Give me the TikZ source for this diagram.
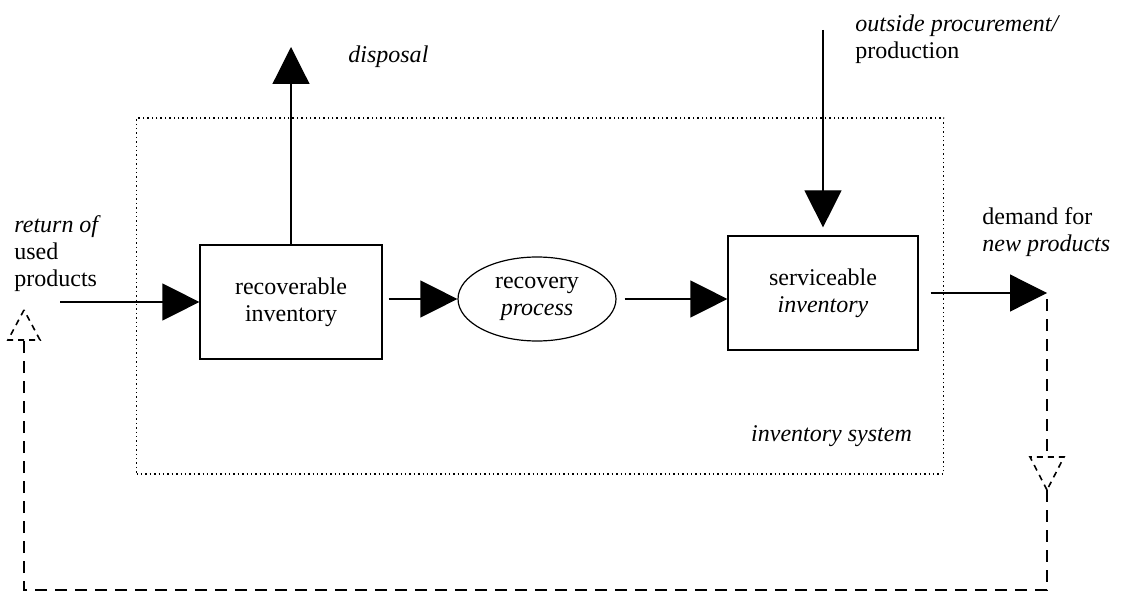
\documentclass[tikz,border=0pt]{standalone}
\usepackage{fontspec}
\setmainfont{Liberation Serif}
\usetikzlibrary{arrows.meta, positioning, calc, shapes.geometric}
\tikzset{
  stock/.style={draw, line width=0.6pt, minimum height=57pt, align=center, inner sep=2pt},
  proc/.style={draw, line width=0.6pt, ellipse, minimum width=79pt, minimum height=42pt, inner sep=1pt, align=center},
  sys/.style={draw, line width=0.7pt, dash pattern=on 0.7pt off 1.5pt, minimum width=403.5pt, minimum height=178pt, inner sep=0pt},
  lbl/.style={align=left, inner sep=0pt},
  arr/.style={-{Triangle[length=18.5pt, width=18.5pt]}, line width=0.6pt},
  back/.style={line width=0.8pt, dash pattern=on 6pt off 4pt},
  backhead/.style={line width=0.8pt, dash pattern=on 3pt off 2.5pt},
}

\begin{document}
\begin{tikzpicture}[x=0.5pt, y=-0.5pt, font=\fontsize{12}{13.5}\selectfont]
  \useasboundingbox (0,0) rectangle (1128,604);
  % inventory system
  \node[sys] (system) at (540,296) {};
  \node[lbl, anchor=south east] (syslab) at ([xshift=-16pt, yshift=14pt]system.south east) {\itshape inventory system};
  % stocks and process
  \node[stock, minimum width=91pt] (rec) at (291,302) {recoverable\\inventory};
  \node[proc] (rp) at (537,299) {recovery\\\textit{process}};
  \node[stock, minimum width=95pt] (serv) at (823,293) {serviceable\\\textit{inventory}};
  % flows
  \coordinate (in) at (60,302);
  \coordinate (out) at (1047,293);
  \coordinate (dispo) at (291,47);
  \coordinate (buy) at (823,30);
  \draw[arr] (in) -- (rec.west);
  \draw[arr, shorten <=3pt] (rec.east |- rp.west) -- (rp.west);
  \draw[arr, shorten <=4pt] (rp.east) -- (rp.east -| serv.west);
  \draw[arr, shorten <=6pt] (serv.east) -- (out);
  \draw[arr] (rec.north) -- (dispo);
  \draw[arr, shorten >=4pt] (buy) -- (serv.north);
  \node[lbl, anchor=west] (displab) at (348,57) {\itshape disposal};
  \node[lbl, anchor=west] (buylab) at (855,39) {\textit{outside procurement/}\\production};
  \node[lbl, anchor=west] (inlab) at (14,254) {\textit{return of}\\used\\products};
  \node[lbl, anchor=west] (outlab) at (982,232) {demand for\\\textit{new products}};
  % feedback of used products
  \coordinate (dn) at (1047,490);
  \coordinate (up) at (24,310);
  \coordinate (corner) at (24,590);
  \draw[back] ([yshift=-3pt]out) -- ($(dn)+(0,-33)$);
  \draw[back] (dn) |- (corner) -- ($(up)+(0,30)$);
  \draw[backhead] (dn) -- ++(-17,-33) -- ++(34,0) -- cycle;
  \draw[backhead] (up) -- ++(-16,30) -- ++(32,0) -- cycle;
\end{tikzpicture}
\end{document}
